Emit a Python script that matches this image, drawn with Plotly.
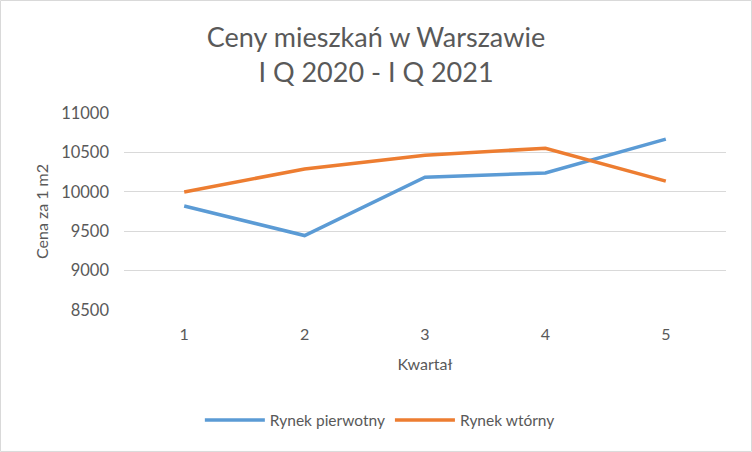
import plotly.graph_objects as go

quarters = ["1", "2", "3", "4", "5"]
rynek_pierwotny = [9820, 9445, 10185, 10240, 10668]
rynek_wtorny = [9998, 10290, 10465, 10553, 10135]
y_ticks = [8500, 9000, 9500, 10000, 10500, 11000]

FONT = "Lato"
GREY = "#595959"

fig = go.Figure()
fig.add_trace(go.Scatter(x=quarters, y=rynek_pierwotny, mode="lines",
                         name="Rynek pierwotny", line=dict(color="#5B9BD5", width=3.5)))
fig.add_trace(go.Scatter(x=quarters, y=rynek_wtorny, mode="lines",
                         name="Rynek wtórny", line=dict(color="#ED7D31", width=3.5)))

fig.update_layout(
    width=752, height=452,
    margin=dict(l=124, r=26, t=113, b=142, autoexpand=False),
    paper_bgcolor="white", plot_bgcolor="white",
    font=dict(family=FONT, color=GREY, size=16),
    title=dict(text="Ceny mieszkań w Warszawie<br>I Q 2020 - I Q 2021",
               x=0.5, xanchor="center", xref="container", y=0.897, yanchor="middle",
               yref="container",
               font=dict(size=27, color=GREY, family=FONT)),
    xaxis=dict(type="category", range=[-0.5, 4.5], showgrid=False, showline=False,
               ticks="", ticklabelstandoff=13, automargin=False,
               title=dict(text="Kwartał", font=dict(size=16, color=GREY), standoff=16),
               tickfont=dict(size=16, color=GREY)),
    yaxis=dict(range=[8500, 11000], tickvals=y_ticks, ticktext=[str(v) for v in y_ticks],
               showgrid=True, gridcolor="#D9D9D9", ticklabelstandoff=14, automargin=False,
               gridwidth=1, zeroline=False, showline=False, ticks="",
               title=dict(text="Cena za 1 m2", font=dict(size=16, color=GREY), standoff=8),
               tickfont=dict(size=16.5, color=GREY)),
    legend=dict(orientation="h", x=0.425, xanchor="center",
                y=-0.56, yanchor="middle",
                font=dict(size=15.5, color=GREY), itemwidth=60),
    showlegend=True,
)
fig.add_shape(type="rect", xref="paper", yref="paper", x0=-0.2051, x1=1.0424, y0=-0.718, y1=1.571,
              line=dict(color="#D9D9D9", width=1), fillcolor="rgba(0,0,0,0)", layer="below")

fig.write_html("out.html", config={"displayModeBar": False},
               post_script="document.body.style.margin='0';")
